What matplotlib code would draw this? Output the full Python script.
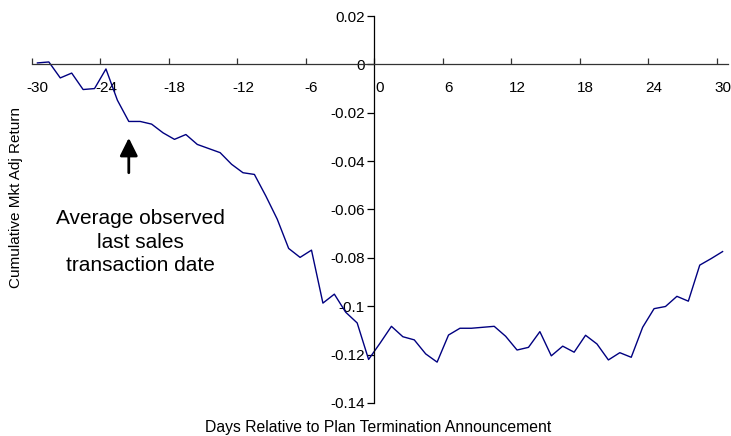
import numpy as np
import matplotlib
matplotlib.use("Agg")
import matplotlib.pyplot as plt
from matplotlib.ticker import FixedLocator, FixedFormatter

plt.rcParams['font.family'] = ['Liberation Sans', 'DejaVu Sans']

# event window, days relative to announcement
days = np.arange(-30, 31)
cum_ret = [
    0.0006, 0.0010, -0.0056, -0.0036, -0.0104, -0.0100, -0.0019, -0.0148,
    -0.0236, -0.0236, -0.0247, -0.0283, -0.0310, -0.0290, -0.0331, -0.0348,
    -0.0365, -0.0413, -0.0448, -0.0455, -0.0544, -0.0640, -0.0761, -0.0798,
    -0.0768, -0.0987, -0.0950, -0.1025, -0.1069, -0.1220,
    -0.1153,
    -0.1083, -0.1126, -0.1139, -0.1197, -0.1231, -0.1119, -0.1091, -0.1091,
    -0.1087, -0.1083, -0.1124, -0.1181, -0.1170, -0.1105, -0.1205, -0.1165,
    -0.1190, -0.1120, -0.1156, -0.1222, -0.1192, -0.1211, -0.1087, -0.1010,
    -0.1001, -0.0959, -0.0979, -0.0830, -0.0803, -0.0774,
]
x_labels = [-30, -24, -18, -12, -6, 0, 6, 12, 18, 24, 30]
y_ticks = [0.02, 0, -0.02, -0.04, -0.06, -0.08, -0.1, -0.12, -0.14]
y_labels = ['0.02', '0', '-0.02', '-0.04', '-0.06', '-0.08', '-0.1', '-0.12', '-0.14']

fig = plt.figure(figsize=(7.31, 4.36), dpi=100)
ax = fig.add_axes([0.0434, 0.0757, 0.9529, 0.8876])

ax.plot(days, cum_ret, color='#000080', lw=1.0)

ax.set_xlim(-30.5, 30.5)
ax.set_ylim(-0.14, 0.02)

# axes cross at the origin (category boundary before day 0)
ax.spines['top'].set_visible(False)
ax.spines['right'].set_visible(False)
ax.spines['left'].set_position(('data', -0.5))
ax.spines['bottom'].set_position(('data', 0))
ax.spines['left'].set_linewidth(0.9)
ax.spines['bottom'].set_linewidth(0.9)
ax.spines['bottom'].set_color('#333333')

# x labels centred on categories, tick marks on boundaries
ax.xaxis.set_major_locator(FixedLocator(x_labels))
ax.xaxis.set_major_formatter(FixedFormatter([str(v) for v in x_labels]))
ax.xaxis.set_minor_locator(FixedLocator([v - 0.5 for v in x_labels]))
ax.tick_params(axis='x', which='major', length=0, pad=12, labelsize=11)
ax.tick_params(axis='x', which='minor', direction='in', length=4, width=0.9, color='#333333')

ax.set_yticks(y_ticks)
ax.set_yticklabels(y_labels)
ax.tick_params(axis='y', direction='out', length=5, width=0.9, pad=2, labelsize=11)

ax.set_xlabel('Days Relative to Plan Termination Announcement', fontsize=11.3)
ax.xaxis.set_label_coords(0.498, -0.045)
ax.set_ylabel('Cumulative Mkt Adj Return', fontsize=11)
ax.yaxis.set_label_coords(-0.0125, 0.53)

ax.annotate('', xy=(-22, -0.0304), xytext=(-22, -0.0448),
            arrowprops=dict(arrowstyle='-|>,head_length=0.9,head_width=0.45',
                            mutation_scale=12, lw=2, color='black',
                            shrinkA=0, shrinkB=0))
ax.text(-21.0, -0.0735, 'Average observed\nlast sales\ntransaction date',
        ha='center', va='center', fontsize=15, linespacing=1.3)

fig.savefig('out.png', dpi=100)
